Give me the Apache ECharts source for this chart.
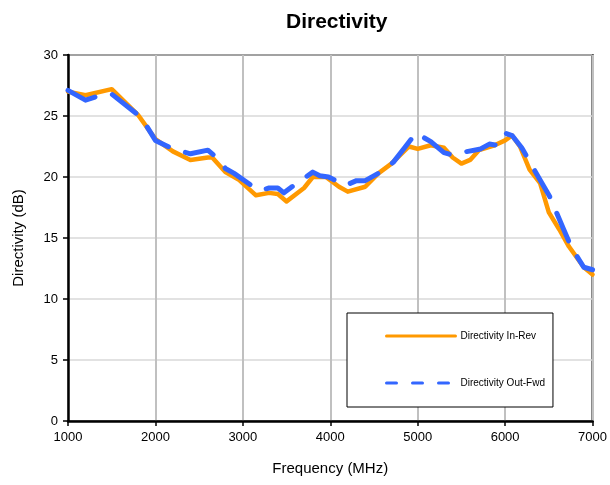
<!DOCTYPE html>
<html>
<head>
<meta charset="utf-8">
<script src="https://cdn.jsdelivr.net/npm/echarts@6/dist/echarts.min.js"></script>
<style>
html,body{margin:0;padding:0;background:#fff;overflow:hidden;}
#chart{width:610px;height:485px;}
</style>
</head>
<body>
<div id="chart"></div>
<script>
var titleText = 'Directivity';
var xName = 'Frequency (MHz)';
var yName = 'Directivity (dB)';
var seriesNames = ['Directivity In-Rev', 'Directivity Out-Fwd'];

var freqIn = [1000,1200,1500,1800,2000,2200,2400,2600,2650,2800,2950,3150,3300,3400,3500,3700,3800,3950,4100,4200,4400,4550,4700,4900,5000,5150,5300,5400,5500,5600,5700,5880,6000,6080,6170,6280,6400,6500,6620,6730,6820,6900,7000];
var dirIn  = [27.0,26.7,27.2,25.1,23.1,22.1,21.4,21.6,21.6,20.4,19.8,18.5,18.7,18.6,18.0,19.1,20.0,20.0,19.2,18.8,19.2,20.3,21.1,22.5,22.3,22.6,22.4,21.6,21.1,21.4,22.2,22.6,23.0,23.4,22.5,20.6,19.5,17.1,15.7,14.3,13.4,12.6,12.0];

var freqOut = [1000,1200,1370,1500,1800,1880,2000,2200,2400,2600,2730,2800,2900,3100,3200,3300,3400,3470,3600,3800,3880,3980,4170,4300,4400,4550,4720,4850,4980,5150,5300,5400,5500,5720,5820,5910,6000,6080,6190,6400,6510,6670,6760,6900,7000];
var dirOut  = [27.1,26.3,26.7,26.8,25.1,24.4,23.0,22.3,21.9,22.2,21.4,20.7,20.3,19.3,18.9,19.1,19.1,18.7,19.4,20.4,20.1,20.0,19.3,19.7,19.7,20.3,21.2,22.4,23.6,22.9,22.0,21.8,22.0,22.3,22.7,22.6,23.6,23.4,22.4,19.75,18.4,15.7,14.2,12.6,12.4];

function pairs(xs, ys){ return xs.map(function(x,i){ return [x, ys[i]]; }); }

var chart = echarts.init(document.getElementById('chart'), null, {renderer:'canvas', width:610, height:485});
var font = 'Liberation Sans, Arial, sans-serif';
chart.setOption({
  animation:false,
  backgroundColor:'#fff',
  textStyle:{fontFamily:font},
  title:{text:titleText, left:281, top:7,
    textStyle:{fontSize:21, fontWeight:'bold', color:'#000', fontFamily:font}},
  grid:{left:68, right:14, top:55, bottom:64, show:true, borderColor:'#000', borderWidth:2, backgroundColor:'transparent'},
  legend:{
    orient:'vertical', left:347, top:313,
    backgroundColor:'#fff', borderColor:'#000', borderWidth:1,
    padding:[18,8,19,38], itemGap:37, itemWidth:69, itemHeight:2,
    itemStyle:{opacity:0},
    textStyle:{fontSize:10, color:'#000', fontFamily:font},
    data:[
      {name:seriesNames[0], lineStyle:{width:3}},
      {name:seriesNames[1], lineStyle:{width:3, type:[10,16]}}
    ]
  },
  xAxis:{type:'value', min:1000, max:7000, interval:1000,
    name:xName, nameLocation:'middle', nameGap:40,
    nameTextStyle:{fontSize:15, color:'#000', fontFamily:font},
    axisLine:{lineStyle:{color:'#000', width:2.5}},
    axisTick:{show:true, length:5, lineStyle:{color:'#000', width:1.5}},
    axisLabel:{fontSize:13, color:'#000', margin:10, fontFamily:font, showMaxLabel:true, showMinLabel:true,
      formatter:function(v){ return String(v); }},
    splitLine:{show:true, lineStyle:{color:'#C0C0C0', width:2}}
  },
  yAxis:{type:'value', min:0, max:30, interval:5,
    name:yName, nameLocation:'middle', nameGap:42, nameRotate:90,
    nameTextStyle:{fontSize:15, color:'#000', fontFamily:font},
    axisLine:{show:true, lineStyle:{color:'#000', width:2.5}},
    axisTick:{show:true, length:5, lineStyle:{color:'#000', width:1.5}},
    axisLabel:{fontSize:13, color:'#000', margin:10, fontFamily:font},
    splitLine:{show:true, lineStyle:{color:'#D9D9D9', width:1.5}}
  },
  series:[
    {name:seriesNames[0], type:'line', data:pairs(freqIn, dirIn), symbol:'none', showSymbol:false,
     color:'#FF9900', lineStyle:{color:'#FF9900', width:4.5, cap:'round', join:'round'}, z:2},
    {name:seriesNames[1], type:'line', data:pairs(freqOut, dirOut), symbol:'none', showSymbol:false,
     color:'#3366FF', lineStyle:{color:'#3366FF', width:5, type:[30,18], cap:'round', join:'round'}, z:3}
  ]
});
</script>
</body>
</html>
